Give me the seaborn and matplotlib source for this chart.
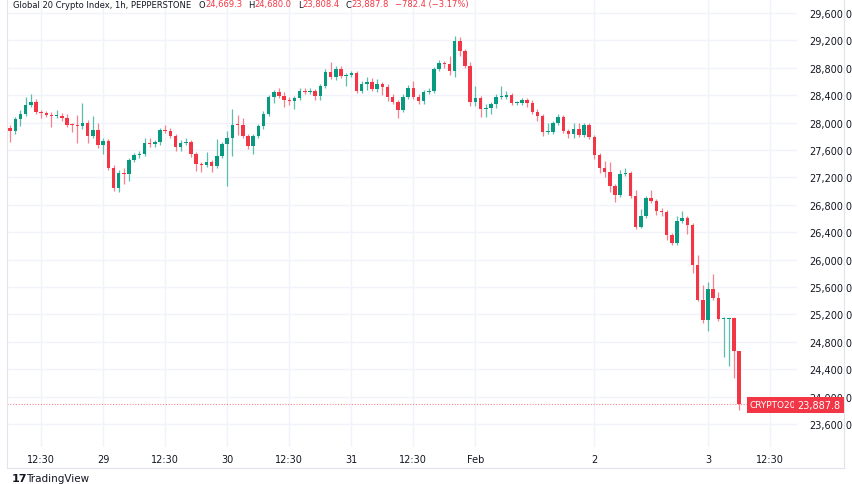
import matplotlib
matplotlib.use("Agg")
import matplotlib.pyplot as plt
import seaborn as sns
import numpy as np
import pandas as pd
from matplotlib.lines import Line2D

closes = [27870,28050,28130,28260,28300,28150,28140,28110,28090,28100,28070,27970,27960,27950,28000,27800,27890,27670,27730,27340,
27050,27270,27250,27450,27520,27540,27700,27680,27710,27890,27880,27800,27640,27700,27710,27540,27390,27380,27420,27360,
27510,27680,27770,27970,27960,27800,27660,27810,27950,28130,28370,28440,28390,28330,28320,28360,28460,28450,28460,28390,
28530,28740,28670,28780,28680,28690,28720,28460,28560,28590,28490,28560,28520,28370,28300,28180,28380,28500,28380,28310,
28440,28460,28780,28870,28860,28750,29190,29050,28830,28300,28360,28200,28210,28270,28380,28380,28400,28280,28290,28330,
28290,28160,28090,27860,27860,28000,28080,27880,27830,27910,27820,27960,27790,27530,27340,27280,27070,26940,27250,27270,
26930,26480,26640,26900,26860,26710,26700,26360,26240,26560,26610,26510,25920,25410,25120,25570,25440,25130,25130,25150,
24669.3,23887.8]
first_open = 27920
wick_up = [40,30,60,120,120,40,30,30,40,80,40,60,30,150,290,40,200,100,40,30,
40,40,70,30,30,40,80,80,40,30,80,40,30,40,60,40,30,40,150,40,
250,40,100,230,140,100,30,30,30,40,30,30,60,60,40,30,40,50,40,30,
40,40,150,40,40,30,40,30,40,80,60,80,30,40,40,30,40,50,110,30,
30,50,30,40,30,110,70,60,30,60,180,30,60,30,30,150,60,30,30,30,
30,40,40,30,140,30,40,30,30,80,80,40,30,30,30,100,150,30,60,60,
30,80,100,30,120,30,40,30,30,70,100,30,30,150,220,110,220,80,30,0,
10.7,0]
wick_dn = [150,40,100,30,30,30,80,30,150,30,40,30,100,250,40,100,30,40,130,30,
50,60,150,100,30,30,30,30,40,40,30,30,60,60,30,40,100,100,30,80,
30,30,610,260,140,30,40,120,30,50,30,80,30,100,60,120,30,30,30,60,
60,30,30,50,30,150,30,30,30,80,30,40,120,60,30,120,30,30,30,40,
40,30,30,30,60,60,80,80,30,60,60,120,120,80,60,30,30,30,30,30,
60,30,70,60,30,30,30,30,60,60,30,30,30,60,80,80,80,100,30,30,
30,30,20,30,30,60,60,80,30,30,30,130,120,20,50,160,30,30,550,690,
400,79.4]
ytick_vals = list(range(23600, 29601, 400))
xtick_pos = [6, 18, 30, 42, 54, 66, 78, 90, 113, 135, 147]
xtick_labels = ["12:30", "29", "12:30", "30", "12:30", "31", "12:30", "Feb", "2", "3", "12:30"]

opens = [first_open] + closes[:-1]
opens[-1] = 24669.3
df = pd.DataFrame({"i": np.arange(len(closes)), "open": opens, "close": closes})
df["high"] = df[["open", "close"]].max(axis=1) + np.array(wick_up)
df["low"] = df[["open", "close"]].min(axis=1) - np.array(wick_dn)
df["dir"] = np.where(df["close"] >= df["open"], "up", "down")

GREEN = "#089981"
RED = "#F23645"
pal = {"up": GREEN, "down": RED}
wpal = {"up": "#5cbfae", "down": "#f7828f"}

sns.set_theme(style="white")
W, H = 852, 485
fig = plt.figure(figsize=(W/100, H/100), dpi=100)
fig.patch.set_facecolor("white")
ax = fig.add_axes([7/W, (H-448)/H, (797-7)/W, 448/H])

ax.set_xlim(-0.6, 152.2)
ax.set_ylim(23264, 29804)
for v in ytick_vals:
    ax.axhline(v, color="#f0f3fa", lw=1, zorder=0)
for p in xtick_pos:
    ax.axvline(p, color="#f0f3fa", lw=1, zorder=0)

for d, g in df.groupby("dir"):
    ax.vlines(g["i"], g["low"], g["high"], color=wpal[d], lw=0.9, zorder=2)
bottoms = df[["open", "close"]].min(axis=1)
heights = np.maximum((df["open"] - df["close"]).abs(), 14)
ax.bar(df["i"], heights, bottom=bottoms, width=0.68,
       color=[pal[d] for d in df["dir"]], zorder=3, linewidth=0)

last = closes[-1]
ax.axhline(last, color=RED, lw=0.8, ls=(0, (1, 1.5)), alpha=0.6, zorder=1)

ax.yaxis.tick_right()
ax.set_yticks(ytick_vals)
ax.set_yticklabels([f"{v:,.1f}" for v in ytick_vals], fontsize=7, color="#131722")
ax.set_xticks(xtick_pos)
ax.set_xticklabels(xtick_labels, fontsize=7, color="#131722")
ax.tick_params(axis="y", length=0, pad=9)
ax.tick_params(axis="x", length=0, pad=5)
for s in ax.spines.values():
    s.set_visible(False)
ax.grid(False)

yfig = 1 - 406/H
fig.text(773/W, yfig, "CRYPTO20", ha="center", va="center", fontsize=6.5, color="white",
         bbox=dict(boxstyle="square,pad=0.35", fc=RED, ec="none"), zorder=10)
fig.text(819/W, yfig, f"{last:,.1f}", ha="center", va="center", fontsize=7, color="white",
         bbox=dict(boxstyle="square,pad=0.35", fc=RED, ec="none"), zorder=10)

fig.add_artist(Line2D([7/W, 844/W], [1-469/H, 1-469/H], color="#e0e3eb", lw=0.8))
fig.add_artist(Line2D([844/W, 844/W], [1-469/H, 1], color="#e0e3eb", lw=0.8))
fig.add_artist(Line2D([7/W, 7/W], [1-469/H, 1], color="#e0e3eb", lw=0.8))

fig.canvas.draw()
r = fig.canvas.get_renderer()
parts = [("Global 20 Crypto Index, 1h, PEPPERSTONE ", "#131722", 5),
         ("O", "#131722", 0), ("24,669.3", RED, 6), ("H", "#131722", 0), ("24,680.0", RED, 6),
         ("L", "#131722", 0), ("23,808.4", RED, 6), ("C", "#131722", 0), ("23,887.8", RED, 6),
         ("\u2212782.4 (\u22123.17%)", RED, 0)]
x = 13
for s, c, gap in parts:
    t = fig.text(x/W, 1-5/H, s, fontsize=6.0, color=c, va="center", ha="left")
    bb = t.get_window_extent(renderer=r)
    x += bb.width + gap

fig.text(12/W, 1-479/H, "17", fontsize=8, fontweight="bold", color="#131722", va="center")
fig.text(26/W, 1-479/H, "TradingView", fontsize=7.5, color="#131722", va="center")

fig.savefig("out.png", dpi=100, facecolor="white")
